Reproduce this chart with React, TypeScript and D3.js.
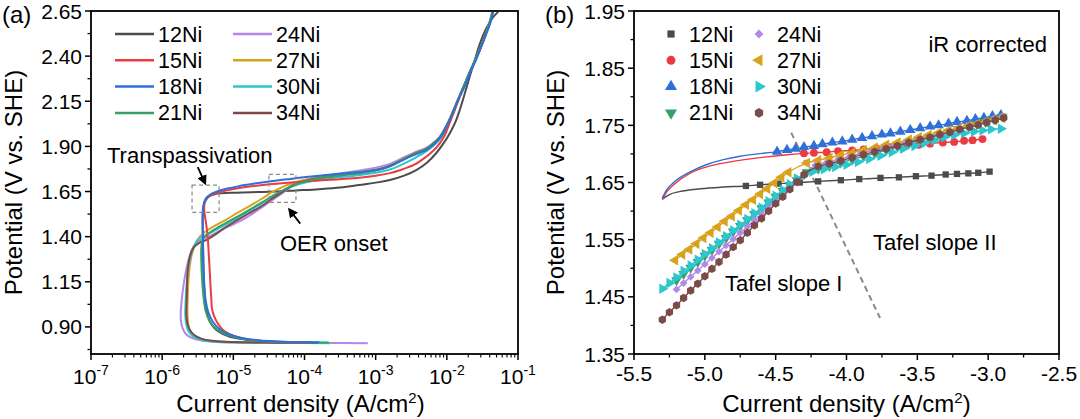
import React from "react";
import * as d3 from "d3";

type Pt = [number, number];

const FONT = "'Liberation Sans', Arial, Helvetica, sans-serif";

const seriesNames = ["12Ni", "15Ni", "18Ni", "21Ni", "24Ni", "27Ni", "30Ni", "34Ni"];
const seriesColors = ["#4b4b4b", "#ec3b40", "#2f6fd8", "#36a069", "#b488e6", "#d8a21c", "#2cc6cf", "#7a4b4a"];

// ---------- Panel (a): polarization curves, [log10 current density (A/cm2), potential (V vs. SHE)] ----------
const pol12Ni: Pt[] = [
  [-3.90, 0.815], [-4.40, 0.818], [-4.80, 0.828], [-5.05, 0.845], [-5.20, 0.872], [-5.30, 0.91], [-5.36, 0.96],
  [-5.39, 1.03], [-5.41, 1.12], [-5.42, 1.22], [-5.425, 1.32], [-5.43, 1.42], [-5.43, 1.50], [-5.42, 1.56],
  [-5.39, 1.60], [-5.33, 1.625], [-5.24, 1.638], [-5.05, 1.643], [-4.75, 1.646], [-4.40, 1.650], [-4.12, 1.656],
  [-3.80, 1.663], [-3.50, 1.672], [-3.20, 1.688], [-2.95, 1.702], [-2.80, 1.714], [-2.60, 1.738], [-2.43, 1.769],
  [-2.28, 1.81], [-2.15, 1.862], [-2.05, 1.915], [-1.96, 1.972], [-1.88, 2.035], [-1.82, 2.10], [-1.75, 2.19],
  [-1.68, 2.285], [-1.61, 2.375], [-1.535, 2.47], [-1.45, 2.55], [-1.36, 2.61], [-1.28, 2.645],
];
const pol15Ni: Pt[] = [
  [-3.93, 0.813], [-4.40, 0.817], [-4.70, 0.825], [-4.92, 0.842], [-5.06, 0.862], [-5.15, 0.885], [-5.22, 0.92],
  [-5.27, 0.96], [-5.30, 1.00], [-5.31, 1.06], [-5.32, 1.12], [-5.33, 1.20], [-5.345, 1.30], [-5.36, 1.40],
  [-5.385, 1.48], [-5.41, 1.55], [-5.40, 1.595], [-5.35, 1.622], [-5.24, 1.642], [-5.05, 1.660], [-4.80, 1.676],
  [-4.45, 1.692], [-4.10, 1.703], [-3.75, 1.712], [-3.37, 1.722], [-3.00, 1.738], [-2.80, 1.752], [-2.66, 1.768],
  [-2.45, 1.80], [-2.29, 1.843], [-2.18, 1.88], [-2.10, 1.917], [-2.03, 1.962], [-1.96, 2.03], [-1.89, 2.10],
  [-1.82, 2.172], [-1.75, 2.24], [-1.68, 2.305], [-1.61, 2.37], [-1.535, 2.434], [-1.46, 2.51], [-1.40, 2.58],
  [-1.35, 2.645],
];
const pol18Ni: Pt[] = [
  [-3.79, 0.815], [-4.30, 0.818], [-4.65, 0.826], [-4.90, 0.84], [-5.08, 0.862], [-5.20, 0.89], [-5.29, 0.93],
  [-5.35, 0.98], [-5.39, 1.05], [-5.41, 1.15], [-5.42, 1.25], [-5.425, 1.35], [-5.43, 1.45], [-5.432, 1.53],
  [-5.42, 1.575], [-5.385, 1.612], [-5.32, 1.635], [-5.24, 1.649], [-5.10, 1.665], [-4.92, 1.68], [-4.70, 1.694],
  [-4.45, 1.708], [-4.20, 1.72], [-3.98, 1.73], [-3.70, 1.741], [-3.40, 1.752], [-3.10, 1.764], [-2.90, 1.778],
  [-2.75, 1.80], [-2.57, 1.834], [-2.40, 1.862], [-2.29, 1.88], [-2.20, 1.905], [-2.10, 1.945], [-2.03, 1.99],
  [-1.96, 2.046], [-1.89, 2.11], [-1.82, 2.175], [-1.74, 2.24], [-1.68, 2.305], [-1.60, 2.37], [-1.535, 2.434],
  [-1.46, 2.51], [-1.39, 2.582], [-1.35, 2.645],
];
const pol21Ni: Pt[] = [
  [-3.66, 0.814], [-4.20, 0.816], [-4.60, 0.822], [-4.90, 0.836], [-5.10, 0.858], [-5.24, 0.888], [-5.33, 0.93],
  [-5.39, 0.99], [-5.42, 1.07], [-5.44, 1.17], [-5.45, 1.27], [-5.45, 1.34], [-5.43, 1.385], [-5.36, 1.415],
  [-5.20, 1.455], [-5.00, 1.498], [-4.80, 1.543], [-4.60, 1.59], [-4.40, 1.637], [-4.20, 1.677], [-4.00, 1.705],
  [-3.75, 1.726], [-3.45, 1.742], [-3.15, 1.756], [-2.90, 1.776], [-2.75, 1.80], [-2.57, 1.836], [-2.40, 1.866],
  [-2.29, 1.886], [-2.20, 1.912], [-2.10, 1.95], [-2.03, 1.995], [-1.96, 2.05], [-1.89, 2.115], [-1.82, 2.18],
  [-1.75, 2.245], [-1.68, 2.31], [-1.60, 2.38], [-1.535, 2.44], [-1.46, 2.515], [-1.40, 2.585], [-1.355, 2.645],
];
const pol24Ni: Pt[] = [
  [-3.11, 0.81], [-3.80, 0.811], [-4.50, 0.812], [-5.00, 0.814], [-5.30, 0.818], [-5.48, 0.827], [-5.60, 0.842],
  [-5.67, 0.862], [-5.71, 0.89], [-5.735, 0.93], [-5.74, 0.97], [-5.725, 1.05], [-5.70, 1.13], [-5.67, 1.20],
  [-5.63, 1.27], [-5.58, 1.33], [-5.52, 1.365], [-5.44, 1.385], [-5.30, 1.41], [-5.10, 1.45], [-4.92, 1.483],
  [-4.70, 1.535], [-4.45, 1.603], [-4.28, 1.65], [-4.12, 1.693], [-3.90, 1.724], [-3.60, 1.745], [-3.30, 1.762],
  [-3.00, 1.782], [-2.80, 1.803], [-2.60, 1.84], [-2.42, 1.872], [-2.29, 1.892], [-2.20, 1.916], [-2.10, 1.953],
  [-2.03, 1.998], [-1.96, 2.052], [-1.89, 2.115], [-1.82, 2.18], [-1.75, 2.245], [-1.68, 2.31], [-1.60, 2.38],
  [-1.535, 2.44], [-1.46, 2.515], [-1.40, 2.585], [-1.36, 2.645],
];
const pol27Ni: Pt[] = [
  [-3.90, 0.812], [-4.50, 0.813], [-5.00, 0.816], [-5.30, 0.822], [-5.47, 0.835], [-5.57, 0.858], [-5.62, 0.89],
  [-5.64, 0.94], [-5.645, 1.00], [-5.64, 1.08], [-5.63, 1.16], [-5.615, 1.23], [-5.585, 1.30], [-5.54, 1.355],
  [-5.47, 1.40], [-5.385, 1.43], [-5.25, 1.462], [-5.10, 1.495], [-4.95, 1.53], [-4.78, 1.568], [-4.60, 1.61],
  [-4.45, 1.648], [-4.28, 1.68], [-4.12, 1.703], [-3.90, 1.722], [-3.60, 1.740], [-3.30, 1.754], [-3.00, 1.772],
  [-2.80, 1.795], [-2.60, 1.835], [-2.42, 1.868], [-2.29, 1.889], [-2.20, 1.914], [-2.10, 1.952], [-2.03, 1.996],
  [-1.96, 2.05], [-1.89, 2.115], [-1.82, 2.18], [-1.75, 2.245], [-1.68, 2.31], [-1.60, 2.38], [-1.535, 2.44],
  [-1.46, 2.515], [-1.40, 2.585], [-1.365, 2.645],
];
const pol30Ni: Pt[] = [
  [-3.64, 0.81], [-4.30, 0.811], [-4.90, 0.813], [-5.25, 0.818], [-5.45, 0.828], [-5.57, 0.848], [-5.635, 0.878],
  [-5.665, 0.92], [-5.675, 0.97], [-5.67, 1.05], [-5.655, 1.14], [-5.635, 1.22], [-5.60, 1.29], [-5.55, 1.35],
  [-5.48, 1.39], [-5.385, 1.408], [-5.15, 1.458], [-4.92, 1.51], [-4.70, 1.56], [-4.45, 1.621], [-4.28, 1.66],
  [-4.12, 1.686], [-3.90, 1.708], [-3.60, 1.725], [-3.30, 1.738], [-3.00, 1.754], [-2.80, 1.772], [-2.60, 1.805],
  [-2.42, 1.842], [-2.28, 1.875], [-2.17, 1.91], [-2.08, 1.95], [-2.01, 1.995], [-1.95, 2.05], [-1.88, 2.115],
  [-1.82, 2.178], [-1.75, 2.243], [-1.68, 2.308], [-1.60, 2.378], [-1.535, 2.438], [-1.46, 2.513], [-1.40, 2.583],
  [-1.355, 2.645],
];
const pol34Ni: Pt[] = [
  [-3.81, 0.812], [-4.40, 0.813], [-5.00, 0.816], [-5.30, 0.823], [-5.45, 0.835], [-5.55, 0.855], [-5.61, 0.883],
  [-5.645, 0.92], [-5.66, 0.97], [-5.655, 1.05], [-5.65, 1.15], [-5.64, 1.22], [-5.61, 1.29], [-5.565, 1.335],
  [-5.49, 1.363], [-5.385, 1.381], [-5.25, 1.413], [-5.10, 1.455], [-4.95, 1.49], [-4.78, 1.529], [-4.60, 1.57],
  [-4.45, 1.612], [-4.30, 1.65], [-4.17, 1.684], [-3.95, 1.713], [-3.60, 1.735], [-3.30, 1.75], [-3.00, 1.768],
  [-2.80, 1.79], [-2.60, 1.83], [-2.42, 1.865], [-2.29, 1.886], [-2.20, 1.912], [-2.10, 1.95], [-2.03, 1.995],
  [-1.96, 2.05], [-1.89, 2.115], [-1.82, 2.18], [-1.75, 2.245], [-1.68, 2.31], [-1.60, 2.38], [-1.535, 2.44],
  [-1.46, 2.515], [-1.40, 2.585], [-1.355, 2.645],
];
const polCurves: Pt[][] = [pol12Ni, pol15Ni, pol18Ni, pol21Ni, pol24Ni, pol27Ni, pol30Ni, pol34Ni];
const polDrawOrder = [0, 4, 5, 6, 7, 1, 3, 2];

const aYTicks = [0.9, 1.15, 1.4, 1.65, 1.9, 2.15, 2.4, 2.65];
const aYMinor = [0.775, 1.025, 1.275, 1.525, 1.775, 2.025, 2.275, 2.525];
const aXExponents = [-7, -6, -5, -4, -3, -2, -1];

// ---------- Panel (b): Tafel plots, [log10 current density, potential (V vs. SHE)] ----------
// fitted lead-in curves (no symbols) for 12Ni, 15Ni, 18Ni
const taf12NiLead: Pt[] = [[-5.30, 1.621], [-5.25, 1.629], [-5.18, 1.634], [-5.03, 1.639], [-4.87, 1.642]];
const taf15NiLead: Pt[] = [[-5.30, 1.620], [-5.27, 1.633], [-5.22, 1.646], [-5.10, 1.667], [-4.99, 1.677], [-4.87, 1.684], [-4.63, 1.693], [-4.40, 1.699]];
const taf18NiLead: Pt[] = [[-5.30, 1.623], [-5.27, 1.637], [-5.22, 1.650], [-5.10, 1.669], [-4.99, 1.681], [-4.87, 1.690], [-4.75, 1.696], [-4.63, 1.700]];

const taf12Ni: Pt[] = [
  [-4.71, 1.644], [-4.61, 1.646], [-4.48, 1.648], [-4.33, 1.650], [-4.20, 1.652], [-4.04, 1.654], [-3.91, 1.656],
  [-3.76, 1.658], [-3.63, 1.659], [-3.51, 1.661], [-3.40, 1.662], [-3.30, 1.664], [-3.22, 1.665], [-3.14, 1.666],
  [-3.07, 1.667], [-2.99, 1.669],
];
const taf15Ni: Pt[] = [
  [-4.30, 1.701], [-4.23, 1.702], [-4.14, 1.703], [-4.06, 1.705], [-3.96, 1.706], [-3.88, 1.708], [-3.79, 1.710],
  [-3.69, 1.712], [-3.59, 1.714], [-3.49, 1.716], [-3.41, 1.718], [-3.32, 1.720], [-3.24, 1.721], [-3.17, 1.723],
  [-3.11, 1.724], [-3.04, 1.726],
];
const taf18Ni: Pt[] = [
  [-4.49, 1.704], [-4.42, 1.707], [-4.36, 1.709], [-4.30, 1.712], [-4.23, 1.714], [-4.17, 1.717], [-4.10, 1.720],
  [-4.03, 1.722], [-3.96, 1.725], [-3.89, 1.728], [-3.82, 1.731], [-3.75, 1.734], [-3.69, 1.736], [-3.62, 1.739],
  [-3.55, 1.742], [-3.48, 1.745], [-3.41, 1.748], [-3.35, 1.750], [-3.28, 1.753], [-3.22, 1.756], [-3.15, 1.758],
  [-3.09, 1.761], [-3.03, 1.763], [-2.97, 1.766], [-2.91, 1.768],
];
const taf21Ni: Pt[] = [
  [-5.20, 1.479], [-5.15, 1.490], [-5.10, 1.501], [-5.05, 1.511], [-5.00, 1.522], [-4.95, 1.532], [-4.90, 1.543],
  [-4.85, 1.553], [-4.80, 1.564], [-4.75, 1.574], [-4.70, 1.584], [-4.65, 1.595], [-4.60, 1.605], [-4.55, 1.615],
  [-4.50, 1.625], [-4.45, 1.635], [-4.40, 1.645], [-4.35, 1.654], [-4.28, 1.668], [-4.20, 1.674], [-4.12, 1.679],
  [-4.04, 1.685], [-3.96, 1.690], [-3.88, 1.696], [-3.80, 1.701], [-3.72, 1.707], [-3.64, 1.713], [-3.56, 1.718],
  [-3.49, 1.723], [-3.42, 1.728], [-3.35, 1.733], [-3.28, 1.738], [-3.21, 1.743], [-3.14, 1.748], [-3.08, 1.752],
  [-3.02, 1.756], [-2.96, 1.761], [-2.90, 1.765],
];
const taf24Ni: Pt[] = [
  [-5.20, 1.463], [-5.15, 1.474], [-5.10, 1.485], [-5.05, 1.496], [-5.00, 1.507], [-4.95, 1.518], [-4.90, 1.529],
  [-4.85, 1.540], [-4.80, 1.551], [-4.75, 1.562], [-4.70, 1.573], [-4.65, 1.584], [-4.60, 1.595], [-4.55, 1.606],
  [-4.50, 1.617], [-4.45, 1.628], [-4.40, 1.639], [-4.35, 1.650], [-4.30, 1.661], [-4.22, 1.680], [-4.14, 1.685],
  [-4.06, 1.690], [-3.98, 1.695], [-3.90, 1.701], [-3.82, 1.706], [-3.74, 1.711], [-3.66, 1.716], [-3.58, 1.721],
  [-3.50, 1.726], [-3.43, 1.731], [-3.36, 1.735], [-3.29, 1.740], [-3.22, 1.744], [-3.15, 1.749], [-3.08, 1.753],
  [-3.02, 1.757], [-2.96, 1.762], [-2.90, 1.766],
];
const taf27Ni: Pt[] = [
  [-5.21, 1.514], [-5.16, 1.524], [-5.11, 1.533], [-5.06, 1.543], [-5.01, 1.553], [-4.96, 1.562], [-4.91, 1.572],
  [-4.86, 1.582], [-4.81, 1.591], [-4.76, 1.601], [-4.71, 1.611], [-4.66, 1.620], [-4.61, 1.630], [-4.56, 1.639],
  [-4.51, 1.649], [-4.46, 1.659], [-4.41, 1.668], [-4.28, 1.684], [-4.20, 1.689], [-4.12, 1.693], [-4.04, 1.698],
  [-3.96, 1.702], [-3.88, 1.707], [-3.80, 1.711], [-3.72, 1.716], [-3.64, 1.720], [-3.56, 1.725], [-3.49, 1.729],
  [-3.42, 1.733], [-3.35, 1.737], [-3.28, 1.741], [-3.21, 1.745], [-3.14, 1.749], [-3.08, 1.752], [-3.02, 1.756],
  [-2.96, 1.759], [-2.90, 1.763],
];
const taf30Ni: Pt[] = [
  [-5.30, 1.464], [-5.25, 1.474], [-5.20, 1.484], [-5.15, 1.495], [-5.10, 1.505], [-5.05, 1.515], [-5.00, 1.525],
  [-4.95, 1.535], [-4.90, 1.545], [-4.85, 1.556], [-4.80, 1.566], [-4.75, 1.576], [-4.70, 1.586], [-4.65, 1.596],
  [-4.60, 1.606], [-4.55, 1.617], [-4.50, 1.627], [-4.45, 1.637], [-4.40, 1.647], [-4.35, 1.657], [-4.24, 1.669],
  [-4.16, 1.673], [-4.08, 1.677], [-4.00, 1.681], [-3.92, 1.686], [-3.84, 1.691], [-3.76, 1.697], [-3.68, 1.703],
  [-3.60, 1.709], [-3.52, 1.714], [-3.45, 1.719], [-3.38, 1.724], [-3.31, 1.729], [-3.24, 1.733], [-3.17, 1.736],
  [-3.10, 1.739], [-3.04, 1.741], [-2.98, 1.743], [-2.91, 1.744],
];
const taf34Ni: Pt[] = [
  [-5.30, 1.410], [-5.25, 1.423], [-5.20, 1.435], [-5.15, 1.448], [-5.10, 1.461], [-5.05, 1.473], [-5.00, 1.486],
  [-4.95, 1.499], [-4.90, 1.511], [-4.85, 1.524], [-4.80, 1.537], [-4.75, 1.549], [-4.70, 1.562], [-4.65, 1.575],
  [-4.60, 1.587], [-4.55, 1.600], [-4.50, 1.613], [-4.45, 1.625], [-4.40, 1.638], [-4.35, 1.651], [-4.30, 1.664],
  [-4.20, 1.678], [-4.12, 1.683], [-4.04, 1.688], [-3.96, 1.694], [-3.88, 1.699], [-3.80, 1.704], [-3.72, 1.709],
  [-3.64, 1.714], [-3.56, 1.720], [-3.48, 1.725], [-3.41, 1.729], [-3.34, 1.734], [-3.27, 1.738], [-3.20, 1.743],
  [-3.13, 1.747], [-3.07, 1.751], [-3.01, 1.755], [-2.95, 1.759], [-2.89, 1.763],
];
const tafLeads: Pt[][] = [taf12NiLead, taf15NiLead, taf18NiLead, [], [], [], [], []];
const tafMarks: Pt[][] = [taf12Ni, taf15Ni, taf18Ni, taf21Ni, taf24Ni, taf27Ni, taf30Ni, taf34Ni];

const bXTicks = [-5.5, -5.0, -4.5, -4.0, -3.5, -3.0, -2.5];
const bXTickLabels = ["-5.5", "-5.0", "-4.5", "-4.0", "-3.5", "-3.0", "-2.5"];
const bXMinor = [-5.25, -4.75, -4.25, -3.75, -3.25, -2.75];
const bYTicks = [1.35, 1.45, 1.55, 1.65, 1.75, 1.85, 1.95];
const bYMinor = [1.4, 1.5, 1.6, 1.7, 1.8, 1.9];
const tafelDivider: Pt[] = [[-4.39, 1.737], [-3.763, 1.413]];

// ---------- shared layout ----------
const TOP = 11;
const BOTTOM = 354;
const TICK_FS = 21;
const TITLE_FS = 24;
const LEGEND_FS = 21.5;
const NOTE_FS = 22;

const symbolHexagon = {
  draw(ctx: any, size: number) {
    const r = Math.sqrt(size / 2.598);
    for (let i = 0; i < 6; i++) {
      const a = (Math.PI / 3) * i + Math.PI / 6;
      const px = r * Math.cos(a);
      const py = r * Math.sin(a);
      if (i === 0) ctx.moveTo(px, py);
      else ctx.lineTo(px, py);
    }
    ctx.closePath();
  },
};

const symbolSpecs: { type: any; size: number; rot: number }[] = [
  { type: d3.symbolSquare, size: 40, rot: 0 },
  { type: d3.symbolCircle, size: 48, rot: 0 },
  { type: d3.symbolTriangle, size: 48, rot: 0 },
  { type: d3.symbolTriangle, size: 48, rot: 180 },
  { type: d3.symbolSquare, size: 30, rot: 45 },
  { type: d3.symbolTriangle, size: 48, rot: -90 },
  { type: d3.symbolTriangle, size: 48, rot: 90 },
  { type: symbolHexagon, size: 46, rot: 0 },
];

function Marker({ i, x, y, scale = 1 }: { i: number; x: number; y: number; scale?: number }) {
  const s = symbolSpecs[i];
  const path = d3.symbol().type(s.type).size(s.size * scale)() as string;
  return <path d={path} fill={seriesColors[i]} transform={`translate(${x},${y}) rotate(${s.rot})`} />;
}

function PanelA() {
  const L = 91;
  const R = 518;
  const x = d3.scaleLog().domain([1e-7, 1e-1]).range([L, R]);
  const y = d3.scaleLinear().domain([0.75, 2.65]).range([BOTTOM, TOP]);
  const X = (v: number) => x(Math.pow(10, v));
  const line = d3
    .line<Pt>()
    .x((d) => X(d[0]))
    .y((d) => y(d[1]))
    .curve(d3.curveCatmullRom.alpha(0.5));

  const minorX: number[] = [];
  for (let e = -7; e < -1; e++) for (let m = 2; m <= 9; m++) minorX.push(m * Math.pow(10, e));

  const box1 = { x0: X(-5.58), x1: X(-5.2), y0: y(1.685), y1: y(1.535) };
  const box2 = { x0: X(-4.5), x1: X(-4.12), y0: y(1.745), y1: y(1.59) };

  return (
    <g fontFamily={FONT}>
      {polDrawOrder.map((i) => (
        <path key={i} d={line(polCurves[i]) || ""} fill="none" stroke={seriesColors[i]} strokeWidth={2} strokeLinejoin="round" />
      ))}

      <rect x={box1.x0} y={box1.y0} width={box1.x1 - box1.x0} height={box1.y1 - box1.y0} fill="none" stroke="#8a8a8a" strokeWidth={1.2} strokeDasharray="4 3" />
      <rect x={box2.x0} y={box2.y0} width={box2.x1 - box2.x0} height={box2.y1 - box2.y0} fill="none" stroke="#8a8a8a" strokeWidth={1.2} strokeDasharray="4 3" />
      <line x1={X(-5.5)} y1={y(1.785)} x2={X(-5.395)} y2={y(1.695)} stroke="#000" strokeWidth={1.8} markerEnd="url(#arrowHead)" />
      <line x1={X(-4.06)} y1={y(1.472)} x2={X(-4.215)} y2={y(1.552)} stroke="#000" strokeWidth={1.8} markerEnd="url(#arrowHead)" />
      <text x={107} y={163} fontSize={NOTE_FS} fill="#000">Transpassivation</text>
      <text x={280} y={251} fontSize={NOTE_FS} fill="#000">OER onset</text>

      {/* legend */}
      {seriesNames.map((n, i) => {
        const col = i < 4 ? 0 : 1;
        const row = i % 4;
        const lx = col === 0 ? 115 : 233;
        const ly = 34 + row * 26.3;
        return (
          <g key={n}>
            <line x1={lx} x2={lx + 39} y1={ly} y2={ly} stroke={seriesColors[i]} strokeWidth={2.5} />
            <text x={lx + 43} y={ly} dy="0.35em" fontSize={LEGEND_FS} fill="#000">{n}</text>
          </g>
        );
      })}

      {/* frame and axes */}
      <rect x={L} y={TOP} width={R - L} height={BOTTOM - TOP} fill="none" stroke="#000" strokeWidth={1.8} />
      {aYTicks.map((t) => (
        <g key={t}>
          <line x1={L - 6} x2={L} y1={y(t)} y2={y(t)} stroke="#000" strokeWidth={1.5} />
          <text x={L - 9} y={y(t)} dy="0.36em" textAnchor="end" fontSize={TICK_FS}>{t.toFixed(2)}</text>
        </g>
      ))}
      {aYMinor.map((t) => (
        <line key={t} x1={L - 3.5} x2={L} y1={y(t)} y2={y(t)} stroke="#000" strokeWidth={1.3} />
      ))}
      {aXExponents.map((e) => (
        <g key={e}>
          <line x1={X(e)} x2={X(e)} y1={BOTTOM} y2={BOTTOM + 6} stroke="#000" strokeWidth={1.5} />
          <text x={X(e)} y={384} textAnchor="middle" fontSize={TICK_FS}>
            10<tspan dy={-9} fontSize={14}>{String(e)}</tspan>
          </text>
        </g>
      ))}
      {minorX.map((v, k) => (
        <line key={k} x1={x(v)} x2={x(v)} y1={BOTTOM} y2={BOTTOM + 3.5} stroke="#000" strokeWidth={1.1} />
      ))}
      <text x={(L + R) / 2 - 4} y={412} textAnchor="middle" fontSize={TITLE_FS}>
        Current density (A/cm<tspan dy={-9} fontSize={15}>2</tspan><tspan dy={9}>)</tspan>
      </text>
      <text transform={`translate(22,${(TOP + BOTTOM) / 2}) rotate(-90)`} textAnchor="middle" fontSize={TITLE_FS}>
        Potential (V vs. SHE)
      </text>
      <text x={2} y={23} fontSize={TITLE_FS}>(a)</text>
    </g>
  );
}

function PanelB() {
  const L = 634;
  const R = 1059;
  const x = d3.scaleLinear().domain([-5.5, -2.5]).range([L, R]);
  const y = d3.scaleLinear().domain([1.35, 1.95]).range([BOTTOM, TOP]);
  const lineSmooth = d3
    .line<Pt>()
    .x((d) => x(d[0]))
    .y((d) => y(d[1]))
    .curve(d3.curveMonotoneX);

  return (
    <g fontFamily={FONT}>
      <line
        x1={x(tafelDivider[0][0])}
        y1={y(tafelDivider[0][1])}
        x2={x(tafelDivider[1][0])}
        y2={y(tafelDivider[1][1])}
        stroke="#8a8a8a"
        strokeWidth={2}
        strokeDasharray="6 4"
      />
      {tafMarks.map((pts, i) => (
        <g key={i}>
          <path d={lineSmooth([...tafLeads[i], ...pts]) || ""} fill="none" stroke={seriesColors[i]} strokeWidth={1.4} />
          {pts.map((p, k) => (
            <Marker key={k} i={i} x={x(p[0])} y={y(p[1])} />
          ))}
        </g>
      ))}

      <text x={1047} y={52} textAnchor="end" fontSize={NOTE_FS}>iR corrected</text>
      <text x={725} y={291} fontSize={NOTE_FS}>Tafel slope I</text>
      <text x={873} y={250} fontSize={NOTE_FS}>Tafel slope II</text>

      {seriesNames.map((n, i) => {
        const col = i < 4 ? 0 : 1;
        const row = i % 4;
        const mx = col === 0 ? 671 : 759;
        const ly = 34 + row * 26.3;
        return (
          <g key={n}>
            <Marker i={i} x={mx} y={ly} scale={1.3} />
            <text x={mx + 18} y={ly} dy="0.35em" fontSize={LEGEND_FS}>{n}</text>
          </g>
        );
      })}

      <rect x={L} y={TOP} width={R - L} height={BOTTOM - TOP} fill="none" stroke="#000" strokeWidth={1.8} />
      {bYTicks.map((t) => (
        <g key={t}>
          <line x1={L - 6} x2={L} y1={y(t)} y2={y(t)} stroke="#000" strokeWidth={1.5} />
          <text x={L - 9} y={y(t)} dy="0.36em" textAnchor="end" fontSize={TICK_FS}>{t.toFixed(2)}</text>
        </g>
      ))}
      {bYMinor.map((t) => (
        <line key={t} x1={L - 3.5} x2={L} y1={y(t)} y2={y(t)} stroke="#000" strokeWidth={1.3} />
      ))}
      {bXTicks.map((t, k) => (
        <g key={t}>
          <line x1={x(t)} x2={x(t)} y1={BOTTOM} y2={BOTTOM + 6} stroke="#000" strokeWidth={1.5} />
          <text x={x(t)} y={381} textAnchor="middle" fontSize={TICK_FS}>{bXTickLabels[k]}</text>
        </g>
      ))}
      {bXMinor.map((t) => (
        <line key={t} x1={x(t)} x2={x(t)} y1={BOTTOM} y2={BOTTOM + 3.5} stroke="#000" strokeWidth={1.3} />
      ))}
      <text x={(L + R) / 2} y={412} textAnchor="middle" fontSize={TITLE_FS}>
        Current density (A/cm<tspan dy={-9} fontSize={15}>2</tspan><tspan dy={9}>)</tspan>
      </text>
      <text transform={`translate(564,${(TOP + BOTTOM) / 2}) rotate(-90)`} textAnchor="middle" fontSize={TITLE_FS}>
        Potential (V vs. SHE)
      </text>
      <text x={545} y={23} fontSize={TITLE_FS}>(b)</text>
    </g>
  );
}

export default function App() {
  return (
    <svg
      width={1080}
      height={419}
      viewBox="0 0 1080 419"
      style={{ position: "absolute", left: 0, top: 0, background: "#fff" }}
    >
      <defs>
        <marker id="arrowHead" viewBox="0 0 10 10" refX="8" refY="5" markerWidth="5.5" markerHeight="5.5" orient="auto">
          <path d="M0,0 L10,5 L0,10 z" fill="#000" />
        </marker>
      </defs>
      <rect x={0} y={0} width={1080} height={419} fill="#fff" />
      <PanelA />
      <PanelB />
    </svg>
  );
}
